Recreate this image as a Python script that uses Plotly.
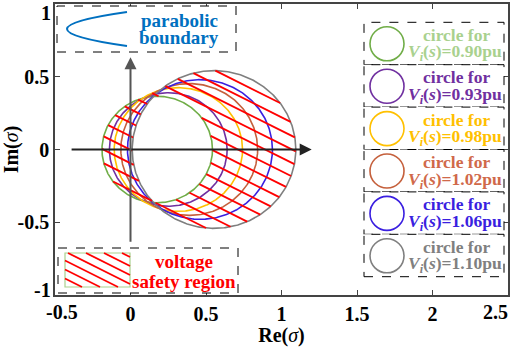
import numpy as np
import plotly.graph_objects as go

# ---------------- data ----------------
voltages = ["0.90", "0.93", "0.98", "1.02", "1.06", "1.10"]
centers_re = [0.177, 0.250, 0.317, 0.389, 0.460, 0.553]
radii = [0.366, 0.390, 0.425, 0.453, 0.480, 0.542]
line_colors = ["#70AD47", "#7030A0", "#FFC000", "#C5603C", "#3A1FE0", "#7F7F7F"]
text_colors = ["#A9D18E", "#7030A0", "#FFC000", "#D0694A", "#3A1FE0", "#808080"]
x_ticks = [-0.5, 0, 0.5, 1, 1.5, 2, 2.5]
y_ticks = [-1, -0.5, 0, 0.5, 1]

# ---------------- geometry helpers ----------------
W, H = 512, 347
L, R, T, B = 55, 508, 4, 295
XR = (-0.5, 2.5)
YR = (-1.0, 1.0)


def px2p(px):
    return (px - L) / (R - L)


def py2p(py):
    return (B - py) / (B - T)


ppu_x = (R - L) / (XR[1] - XR[0])
ppu_y = (B - T) / (YR[1] - YR[0])

FONT = "Liberation Serif, Times New Roman, serif"

fig = go.Figure()

# circles
th = np.linspace(0, 2 * np.pi, 400)
for cx, r, col, v in zip(centers_re, radii, line_colors, voltages):
    fig.add_trace(go.Scatter(x=cx + r * np.cos(th), y=r * np.sin(th), mode="lines",
                             line=dict(color=col, width=1.6), hoverinfo="skip",
                             name=v, showlegend=False))

# hatch lines of the voltage safety region (union minus intersection of disks)
pix_slope = 0.5
m = -pix_slope * ppu_x / ppu_y
dc = 13.5 / ppu_y
c0 = -m * 1.07
xs = np.linspace(-0.35, 1.25, 8001)
hx, hy = [], []
for k in range(-30, 30):
    c = c0 + k * dc
    ys = m * xs + c
    any_in = np.zeros(xs.shape, bool)
    all_in = np.ones(xs.shape, bool)
    for cx, r in zip(centers_re, radii):
        d = (xs - cx) ** 2 + ys ** 2 <= r ** 2
        any_in |= d
        all_in &= d
    mask = any_in & ~all_in
    idx = np.flatnonzero(np.diff(np.r_[0, mask.astype(int), 0]))
    for s, e in zip(idx[::2], idx[1::2]):
        hx += [xs[s], xs[e - 1], None]
        hy += [ys[s], ys[e - 1], None]
fig.add_trace(go.Scatter(x=hx, y=hy, mode="lines", line=dict(color="#FF0000", width=1.9),
                         hoverinfo="skip", showlegend=False))

shapes = []
annotations = []


def box(x0, y0, x1, y1, color="black", dash="dash", width=1, fill="white"):
    shapes.append(dict(type="rect", xref="paper", yref="paper",
                       x0=px2p(x0), x1=px2p(x1), y0=py2p(y1), y1=py2p(y0),
                       line=dict(color=color, width=width, dash=dash),
                       fillcolor=fill, layer="above"))


def text(px, py, s, color, size=18.5, anchor="center"):
    annotations.append(dict(xref="paper", yref="paper", x=px2p(px), y=py2p(py),
                            text=s, showarrow=False, xanchor=anchor, yanchor="middle",
                            borderpad=0,
                            font=dict(family=FONT, size=size, color=color)))


# parabolic boundary legend
box(57, 6, 236, 52)
shapes.append(dict(type="path", xref="paper", yref="paper", layer="above",
                   path=f"M {px2p(127)},{py2p(12)} Q {px2p(7)},{py2p(29)} {px2p(127)},{py2p(46)}",
                   line=dict(color="#0070C0", width=2)))
text(179, 20, "<b>parabolic</b>", "#0070C0", 19)
text(179, 37, "<b>boundary</b>", "#0070C0", 19)

# voltage safety region legend
box(58, 248, 238, 293)
box(65, 253, 130, 287, color="#A9D18E", dash="solid", width=1.2)
ix0, ix1, iy0, iy1 = 65, 130, 253, 287
for a in np.arange(iy0 - 0.5 * (ix1 - ix0) + 4, iy1, 9.0):
    p_lo = max(ix0, ix0 + (iy0 - a) / 0.5)
    p_hi = min(ix1, ix0 + (iy1 - a) / 0.5)
    if p_hi - p_lo > 1:
        shapes.append(dict(type="line", xref="paper", yref="paper", layer="above",
                           x0=px2p(p_lo), y0=py2p(a + 0.5 * (p_lo - ix0)),
                           x1=px2p(p_hi), y1=py2p(a + 0.5 * (p_hi - ix0)),
                           line=dict(color="#FF0000", width=1.8)))
text(184, 261, "<b>voltage</b>", "#FF0000", 19)
text(184, 281, "<b>safety region</b>", "#FF0000", 19)

# circle legend
top0, hb = 22.3, 42.4
for i, (v, lc, tc) in enumerate(zip(voltages, line_colors, text_colors)):
    t = top0 + i * hb
    box(364, t, 504, t + hb)
    shapes.append(dict(type="circle", xref="paper", yref="paper", layer="above",
                       x0=px2p(387 - 17), x1=px2p(387 + 17),
                       y0=py2p(t + 21.5 + 17), y1=py2p(t + 21.5 - 17),
                       line=dict(color=lc, width=1.6)))
    text(456, t + 12.5, "<b>circle for</b>", tc, 17.5)
    text(503, t + 30.5, f"<b><i>V</i><sub><i>i</i></sub>(<i>s</i>)={v}pu</b>", tc, 17.5, "right")

# axis arrows
annotations.append(dict(x=1.2, y=0, ax=-0.4, ay=0, xref="x", yref="y", axref="x", ayref="y",
                        showarrow=True, arrowhead=2, arrowsize=1.2, arrowwidth=2,
                        arrowcolor="#222222", text=""))
annotations.append(dict(x=0, y=0.634, ax=0, ay=-0.645, xref="x", yref="y", axref="x", ayref="y",
                        showarrow=True, arrowhead=2, arrowsize=1.2, arrowwidth=2,
                        arrowcolor="#555555", text=""))

# tick labels at the axis ends are pulled inside the frame, as in the reference
edge_x = {-0.5: 62, 2.5: 495}
edge_y = {1: 13, -1: 290}
for v, px in edge_x.items():
    text(px, 312, f"<b>{v:g}</b>", "black", 20)
for v, py in edge_y.items():
    text(52, py, f"<b>{v:g}</b>", "black", 20, "right")

axis_common = dict(showgrid=False, zeroline=False, showline=True, linecolor="#444444",
                   linewidth=1.5, mirror="ticks", ticks="inside", ticklen=5, tickwidth=1.2,
                   tickcolor="#444444", automargin=False,
                   tickfont=dict(family=FONT, size=20, color="black"))

fig.update_layout(
    width=W, height=H,
    margin=dict(l=L, r=W - R, t=T, b=H - B),
    paper_bgcolor="white", plot_bgcolor="white",
    shapes=shapes, annotations=annotations,
    xaxis=dict(range=list(XR), tickvals=x_ticks,
               ticktext=["" if t in edge_x else f"<b>{t:g}</b>" for t in x_ticks],
               title=dict(text="<b>Re(</b><i>σ</i><b>)</b>",
                          font=dict(family=FONT, size=20, color="black")),
               **axis_common),
    yaxis=dict(range=list(YR), tickvals=y_ticks,
               ticktext=["" if t in edge_y else f"<b>{t:g}</b>" for t in y_ticks],
               title=dict(text="<b>Im(</b><i>σ</i><b>)</b>",
                          font=dict(family=FONT, size=20, color="black")),
               **axis_common),
    showlegend=False,
)

fig.write_html("out.html", config={"displayModeBar": False},
               post_script="document.body.style.margin='0px';document.body.style.overflow='hidden';")
